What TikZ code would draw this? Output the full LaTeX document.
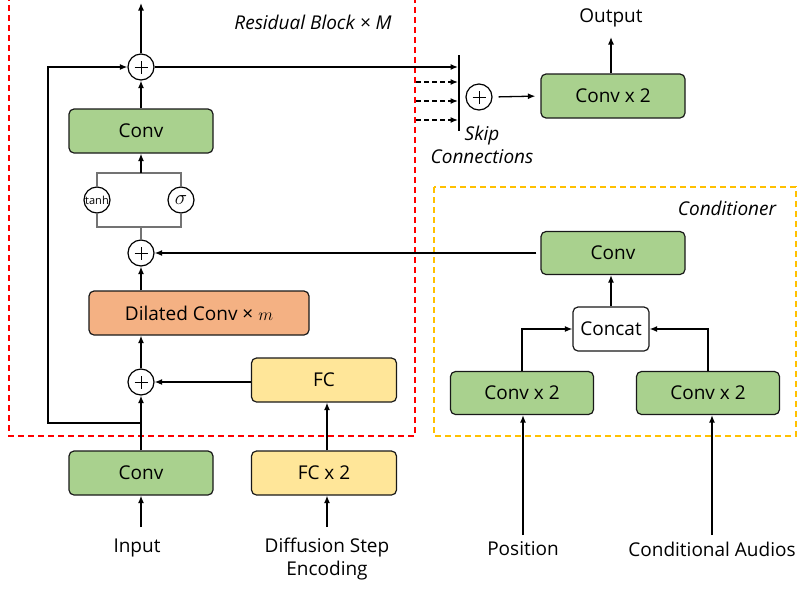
\documentclass[tikz,border=0pt]{standalone}
\usepackage{fontspec}
\setmainfont{Open Sans}
\usetikzlibrary{arrows.meta}
\definecolor{gfill}{HTML}{A9D18E}
\definecolor{ofill}{HTML}{F4B183}
\definecolor{yfill}{HTML}{FFE699}
\definecolor{rdash}{HTML}{FF0000}
\definecolor{ydash}{HTML}{FFC000}
\newcommand{\fs}{\fontsize{19}{23}\selectfont}
\tikzset{
  every node/.style={font=\fs},
  boxbase/.style={draw=black!90, line width=1.2pt, rounded corners=5pt, minimum height=44pt, inner sep=0pt},
  gbox/.style={boxbase, fill=gfill, minimum width=144pt},
  obox/.style={boxbase, fill=ofill},
  ybox/.style={boxbase, fill=yfill, minimum width=145pt},
  wbox/.style={boxbase, fill=white},
  plus/.style={circle, draw, line width=1.2pt, minimum size=26pt, inner sep=0pt,
    path picture={\draw[line width=1pt] ([xshift=-6.5pt]path picture bounding box.center) -- ([xshift=6.5pt]path picture bounding box.center);
                  \draw[line width=1pt] ([yshift=-6.5pt]path picture bounding box.center) -- ([yshift=6.5pt]path picture bounding box.center);}},
  gate/.style={circle, draw, line width=1.2pt, minimum size=26pt, inner sep=0pt},
  arr/.style={-{Latex[length=7.5pt,width=6pt]}, line width=1.3pt},
  ln/.style={line width=1.3pt},
  grayl/.style={line width=1.2pt, draw=black!55},
  dashy/.style={line width=1.2pt, dash pattern=on 6pt off 4pt},
}
\begin{document}
\begin{tikzpicture}[x=1pt,y=-1pt]
\useasboundingbox (0,0) rectangle (797,590);
% group frames
\draw[dashy, draw=rdash] (9,-5) rectangle (415,436);
\draw[dashy, draw=ydash] (434,187) rectangle (796,436);
\node[font=\fs\itshape] (rbl) at (313,22) {Residual Block × M};
\node[font=\fs\itshape] (cdl) at (727,208) {Conditioner};

% residual block
\node[plus] (p3) at (141,67) {};
\node[gbox] (conv3) at (141,131) {Conv};
\node[gate] (tanh) at (97,200) {\fontsize{11}{11}\selectfont tanh};
\node[gate] (sig) at (181,200) {\fontsize{20}{20}\selectfont$\sigma$};
\node[plus] (p2) at (141,253) {};
\node[obox, minimum width=220pt] (dil) at (199,313) {Dilated Conv × $m$};
\node[plus] (p1) at (141,382) {};
\node[ybox] (fc) at (324,380) {FC};
\node[ybox] (fc2) at (324,473) {FC x 2};
\node[gbox] (convin) at (141,473) {Conv};
\node (input) at (137,548) {Input};
\node[align=center] (dse) at (327,559) {Diffusion Step\\Encoding};
\coordinate (inS) at (141,527);
\coordinate (dsS) at (327,527);
\coordinate (top) at (141,3);
\coordinate (sk) at (141,423);
\coordinate (skl) at (48,423);
\coordinate (gt) at (141,173);
\coordinate (gb) at (141,227);

\draw[arr] (inS) -- (convin.south);
\draw[arr] (dsS) -- (dsS |- fc2.south);
\draw[arr] (convin.north) -- (p1.south);
\draw[arr] (dsS |- fc2.north) -- (dsS |- fc.south);
\draw[arr] (fc.west |- p1) -- (p1.east);
\draw[arr] (p1.north) -- (dil.south -| p1);
\draw[arr] (dil.north -| p2) -- (p2.south);
\draw[arr] (conv3.north) -- (p3.south);
\draw[arr] (p3.north) -- (top);
\draw[arr] (sk) -- (skl) |- (p3.west);
% gate
\draw[grayl] (tanh.north) |- (gt) -| (sig.north);
\draw[grayl] (tanh.south) |- (gb) -| (sig.south);
\draw[grayl] (gb) -- (p2.north);
\draw[arr] (gt) -- (conv3.south);

% skip connections
\coordinate (barT) at (459,55);
\coordinate (barB) at (459,131);
\draw[ln] (barT) -- (barB);
\draw[arr] (p3.east) -- (458,67);
\coordinate (d1) at (416,82);
\coordinate (d2) at (416,101);
\coordinate (d3) at (416,120);
\draw[arr, dash pattern=on 5pt off 3pt] (d1) -- (d1 -| 458,0);
\draw[arr, dash pattern=on 5pt off 3pt] (d2) -- (d2 -| 458,0);
\draw[arr, dash pattern=on 5pt off 3pt] (d3) -- (d3 -| 458,0);
\node[plus] (p4) at (479,97) {};
\node[gbox] (oconv) at (613,96) {Conv x 2};
\draw[arr, shorten >=5pt, shorten <=6pt] (p4.east) -- (oconv.west);
\node[align=center, font=\fs\itshape] (skl2) at (482,145) {Skip\\Connections};
\coordinate (outT) at (611,37);
\draw[arr] (oconv.north -| outT) -- (outT);
\node (outl) at (611,18) {Output};

% conditioner
\node[gbox, minimum height=43pt] (cconv) at (613,253) {Conv};
\node[wbox, minimum width=76pt] (concat) at (611,329) {Concat};
\node[gbox, minimum width=143pt, minimum height=43pt] (cx1) at (522,393) {Conv x 2};
\node[gbox, minimum width=143pt, minimum height=43pt] (cx2) at (708,393) {Conv x 2};
\draw[arr] (concat.north) -- (concat.north |- cconv.south);
\draw[arr] (cx1.north) |- (concat.west);
\draw[arr] (cx2.north) |- (concat.east);
\draw[arr, shorten <=4pt] (cconv.west) -- (p2.east);
\coordinate (posS) at (523,535);
\coordinate (caS) at (712,535);
\draw[arr] (posS) -- (posS |- cx1.south);
\draw[arr] (caS) -- (caS |- cx2.south);
\node (pos) at (523,549) {Position};
\node (ca) at (712,549) {Conditional Audios};
\end{tikzpicture}
\end{document}
